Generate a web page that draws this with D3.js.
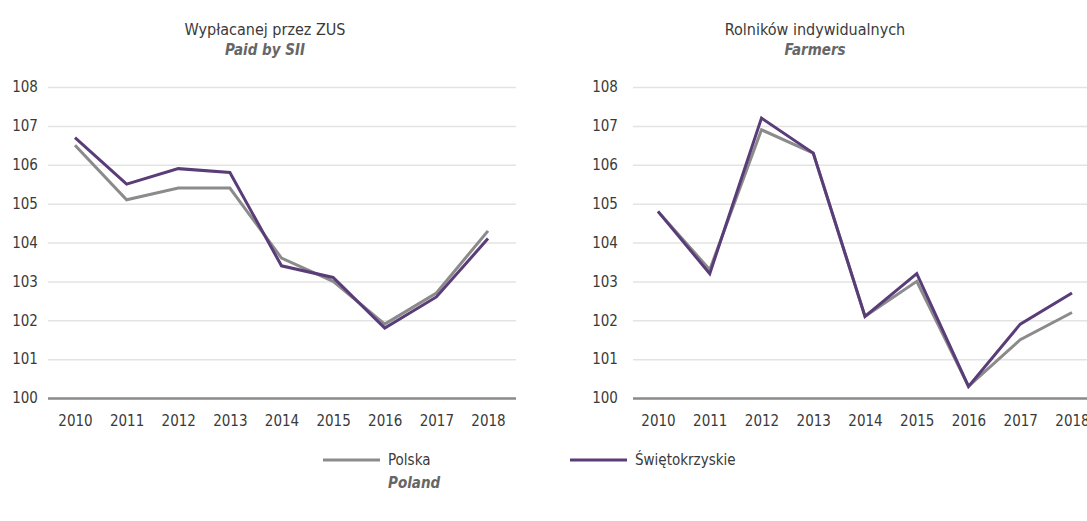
<!DOCTYPE html>
<html>
<head>
<meta charset="utf-8">
<script src="https://cdn.jsdelivr.net/npm/d3@7"></script>
<style>
  body { margin: 0; background: #fff; }
  text { font-family: "DejaVu Sans", sans-serif; font-stretch: condensed; fill: #3a3a3a; }
</style>
</head>
<body>
<div id="chart"></div>
<script>
// data
var years = [2010, 2011, 2012, 2013, 2014, 2015, 2016, 2017, 2018];
var yTicks = [100, 101, 102, 103, 104, 105, 106, 107, 108];

var zusPolska = [106.5, 105.1, 105.4, 105.4, 103.6, 103.0, 101.9, 102.7, 104.3];
var zusSwiet  = [106.7, 105.5, 105.9, 105.8, 103.4, 103.1, 101.8, 102.6, 104.1];

var farmPolska = [104.8, 103.3, 106.9, 106.3, 102.1, 103.0, 100.3, 101.5, 102.2];
var farmSwiet  = [104.8, 103.2, 107.2, 106.3, 102.1, 103.2, 100.3, 101.9, 102.7];

var seriesNames = ["Polska", "Świętokrzyskie"];
var seriesNamesEn = ["Poland", ""];
var colors = ["#8b8b8b", "#5a3c78"];

var W = 1087, H = 521;
var svg = d3.select("#chart").append("svg")
    .attr("width", W)
    .attr("height", H);

// one panel
function panel(opts) {
    var x = d3.scalePoint().domain(years).range([opts.x0, opts.x1]);
    var y = d3.scaleLinear().domain([100, 108]).range([398, 87]);
    var g = svg.append("g");

    // titles
    g.append("text")
        .attr("x", opts.titleX).attr("y", 35)
        .attr("text-anchor", "middle")
        .style("font-size", "16px")
        .text(opts.title);
    g.append("text")
        .attr("x", opts.titleX).attr("y", 55)
        .attr("text-anchor", "middle")
        .style("font-size", "15px")
        .style("font-style", "italic")
        .style("font-weight", "bold")
        .style("fill", "#666")
        .text(opts.subtitle);

    // grid
    var yAxis = d3.axisLeft(y).tickValues(yTicks).tickSize(-(opts.g1 - opts.g0)).tickFormat(d3.format("d"));
    var ga = g.append("g")
        .attr("transform", "translate(" + opts.g0 + ",0)")
        .call(yAxis);
    ga.select(".domain").remove();
    ga.selectAll(".tick line")
        .attr("stroke", function (d) { return d === 100 ? "#8a8a8a" : "#e3e3e3"; })
        .attr("stroke-width", function (d) { return d === 100 ? 2.5 : 1.5; });
    ga.selectAll(".tick text")
        .attr("x", opts.labelX - opts.g0)
        .attr("text-anchor", "middle")
        .style("font-size", "15px")
        .style("fill", "#3a3a3a");

    // x labels
    var xAxis = d3.axisBottom(x).tickSize(0).tickPadding(0);
    var gx = g.append("g")
        .attr("transform", "translate(0,421)")
        .call(xAxis);
    gx.select(".domain").remove();
    gx.selectAll(".tick text")
        .attr("dy", "0.35em")
        .style("font-size", "15px")
        .style("fill", "#3a3a3a");

    var line = d3.line()
        .x(function (d, i) { return x(years[i]); })
        .y(function (d) { return y(d); });

    opts.series.forEach(function (s, i) {
        g.append("path")
            .datum(s)
            .attr("fill", "none")
            .attr("stroke", colors[i])
            .attr("stroke-width", 3)
            .attr("stroke-linejoin", "miter")
            .attr("d", line);
    });
}

panel({
    x0: 75, x1: 488, g0: 48, g1: 516, labelX: 25, titleX: 265,
    title: "Wypłacanej przez ZUS", subtitle: "Paid by SII",
    series: [zusPolska, zusSwiet]
});
panel({
    x0: 658, x1: 1072, g0: 633, g1: 1087, labelX: 605, titleX: 815,
    title: "Rolników indywidualnych", subtitle: "Farmers",
    series: [farmPolska, farmSwiet]
});

// legend
var legX = [323, 570];
seriesNames.forEach(function (name, i) {
    var lg = svg.append("g").attr("transform", "translate(" + legX[i] + ",460)");
    lg.append("line")
        .attr("x1", 0).attr("x2", 57)
        .attr("stroke", colors[i]).attr("stroke-width", 3);
    lg.append("text")
        .attr("x", 65).attr("y", 5)
        .style("font-size", "15px")
        .text(name);
    if (seriesNamesEn[i]) {
        lg.append("text")
            .attr("x", 65).attr("y", 28)
            .style("font-size", "15px")
            .style("font-style", "italic")
            .style("font-weight", "bold")
            .style("fill", "#666")
            .text(seriesNamesEn[i]);
    }
});
</script>
</body>
</html>
